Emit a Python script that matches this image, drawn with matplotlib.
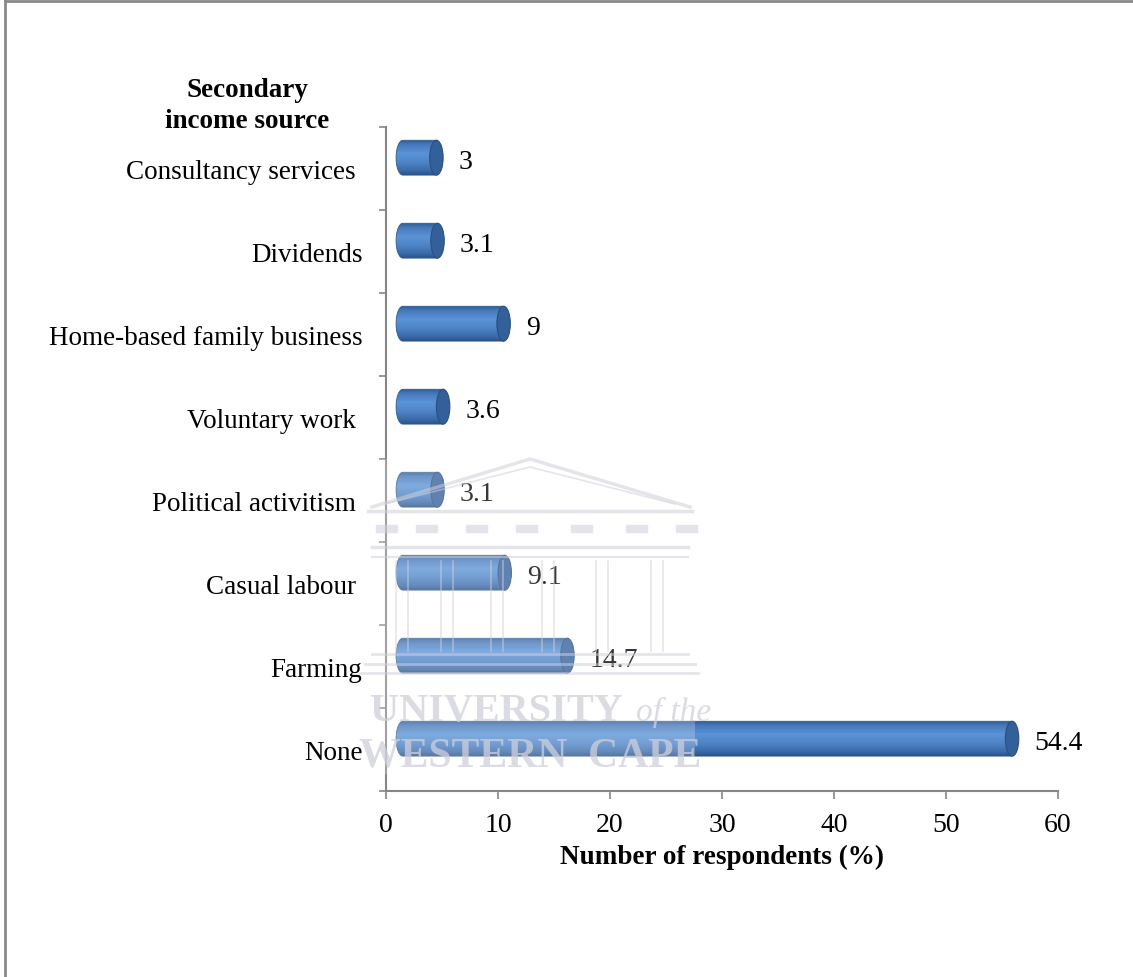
import numpy as np
import matplotlib.pyplot as plt
from matplotlib.patches import Polygon, Ellipse, Rectangle
from matplotlib.colors import LinearSegmentedColormap
from matplotlib.lines import Line2D

plt.rcParams['font.family'] = ['Liberation Serif', 'DejaVu Serif']

# secondary income sources, bottom to top
sources = ['None', 'Farming', 'Casual labour ', 'Political activitism ',
           'Voluntary work ', 'Home-based family business', 'Dividends',
           'Consultancy services ']
shares = [54.4, 14.7, 9.1, 3.1, 3.6, 9, 3.1, 3]

W, H = 1133, 978
fig = plt.figure(figsize=(W / 100, H / 100), dpi=100)


def fx(px):
    return px / W


def fy(py):
    return 1 - py / H


ax = fig.add_axes([fx(386), fy(792), 672 / W, 664 / H])
ax.set_xlim(0, 60)
ax.set_ylim(-0.5, len(sources) - 0.5)

# shading across the cylinder, top to bottom
body_cmap = LinearSegmentedColormap.from_list('cyl', [
    (0.0, '#2f5c94'), (0.12, '#4679bb'), (0.38, '#5b93d6'),
    (0.62, '#4f86c9'), (0.88, '#3a6aa8'), (1.0, '#2b5389')])
grad = np.linspace(0, 1, 64).reshape(-1, 1)

shift_x, shift_y = 1.5, 0.13   # pseudo-3D offset of the bars
half_h, cap_w = 0.21, 0.6

for i, v in enumerate(shares):
    yc = i + shift_y
    x0, x1 = shift_x, shift_x + v
    t = np.linspace(np.pi / 2, 3 * np.pi / 2, 40)
    left = np.column_stack([x0 + cap_w * np.cos(t), yc + half_h * np.sin(t)])
    pts = np.vstack([left, [[x1, yc - half_h], [x1, yc + half_h]]])
    body = Polygon(pts, closed=True, facecolor='none', edgecolor='#2e5a8e',
                   lw=0.6, zorder=3)
    ax.add_patch(body)
    im = ax.imshow(grad, cmap=body_cmap, aspect='auto', interpolation='bicubic',
                   extent=[x0 - cap_w, x1, yc - half_h, yc + half_h],
                   origin='upper', zorder=2)
    im.set_clip_path(body)
    cap = Ellipse((x1, yc), 2 * cap_w, 2 * half_h, facecolor='#34609a',
                  edgecolor='#2a4f80', lw=0.8, zorder=4)
    ax.add_patch(cap)
    ax.text(x1 + 2.0, yc - 0.05, f'{v:g}', fontsize=20, va='center', ha='left',
            color='black', zorder=5)

ax.set_xlim(0, 60)
ax.set_ylim(-0.5, len(sources) - 0.5)

for side in ['top', 'right']:
    ax.spines[side].set_visible(False)
for side in ['left', 'bottom']:
    ax.spines[side].set_color('#868686')
    ax.spines[side].set_linewidth(1.5)

ax.set_xticks(range(0, 61, 10))
ax.tick_params(axis='x', direction='out', length=6, width=1.2, color='#868686',
               labelsize=20, pad=9)
ax.set_yticks(range(len(sources)))
ax.set_yticklabels(sources)
ax.set_yticks(np.arange(-0.5, len(sources), 1), minor=True)
ax.tick_params(axis='y', which='major', length=0, labelsize=19.5, pad=17)
ax.tick_params(axis='y', which='minor', direction='out', length=5, width=1.2,
               color='#868686')

ax.set_xlabel('Number of respondents (%)', fontsize=19.5, fontweight='bold',
              labelpad=5)
fig.text(fx(247), fy(106), 'Secondary\nincome source', fontsize=19.5,
         fontweight='bold', ha='center', va='center', linespacing=1.35)

# faint crest watermark over the lower bars
wm = '#cfcfdc'
fig.add_artist(Rectangle((fx(365), fy(775)), 330 / W, 315 / H,
                         transform=fig.transFigure, facecolor='white',
                         alpha=0.22, edgecolor='none', zorder=6))


def wline(xs, ys, lw=1.5):
    fig.add_artist(Line2D([fx(x) for x in xs], [fy(y) for y in ys],
                          transform=fig.transFigure, color=wm, lw=lw,
                          alpha=0.55, zorder=7))


wline([372, 530, 690], [508, 460, 508], 2.5)
wline([385, 530, 675], [505, 468, 505], 1.2)
wline([368, 692], [512, 512], 2.5)
wline([372, 688], [548, 548], 2.5)
wline([372, 688], [558, 558], 1.5)
for cx in [402, 447, 497, 548, 602, 657]:
    wline([cx - 6, cx - 6], [562, 652], 1.2)
    wline([cx + 6, cx + 6], [562, 652], 1.2)
wline([372, 688], [655, 655], 2)
wline([365, 695], [665, 665], 2)
wline([360, 698], [674, 674], 2)
for mx in [380, 420, 470, 520, 575, 630, 680]:
    wline([mx, mx + 14], [530, 530], 6)

fig.text(fx(370), fy(712), 'UNIVERSITY', fontsize=29, color=wm, alpha=0.75,
         fontweight='bold', va='center', ha='left', zorder=7)
fig.text(fx(636), fy(712), 'of the', fontsize=24, style='italic', color=wm,
         alpha=0.75, va='center', ha='left', zorder=7)
fig.text(fx(530), fy(757), 'WESTERN  CAPE', fontsize=30, color=wm, alpha=0.75,
         fontweight='bold', va='center', ha='center', zorder=7)

# page frame
fig.add_artist(Line2D([fx(5), fx(5)], [0, fy(2)], transform=fig.transFigure,
                      color='#8a8a8a', lw=2))
fig.add_artist(Line2D([fx(5), 1], [fy(2), fy(2)], transform=fig.transFigure,
                      color='#8a8a8a', lw=2))

fig.savefig('out.png', dpi=100)
